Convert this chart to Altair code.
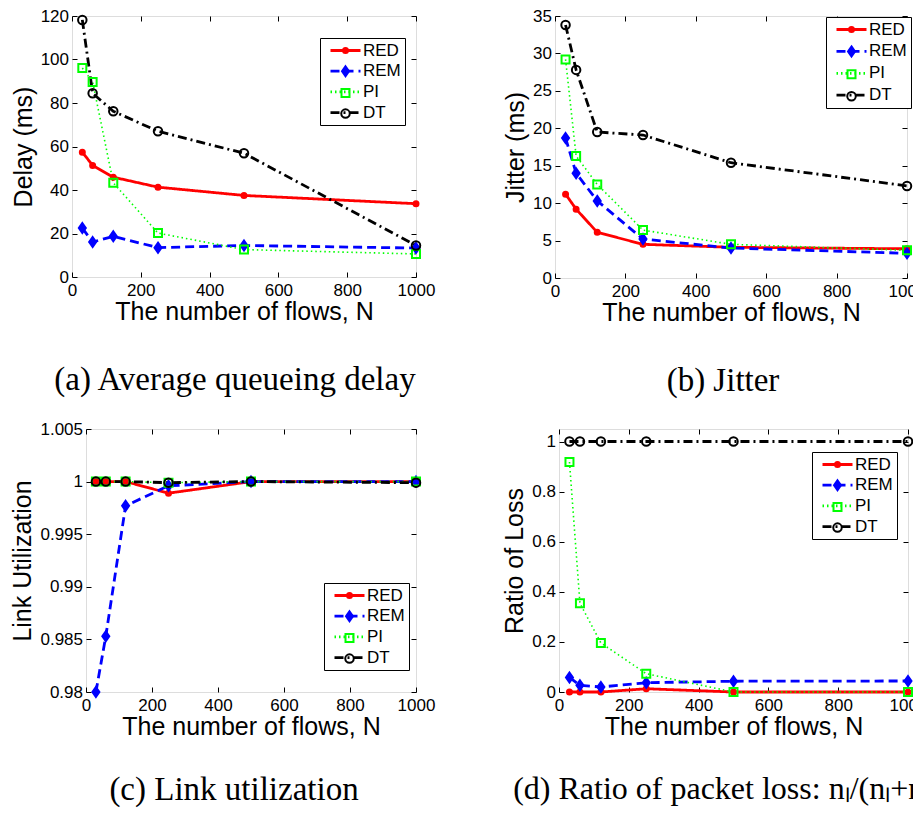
import altair as alt
import pandas as pd

# ---------------- data ----------------
N = [30, 60, 120, 250, 500, 1000]
SERIES = ["RED", "REM", "PI", "DT"]
MARKERS = ["mRED", "mREM", "mPI", "mDT"]
X_TICKS = [0, 200, 400, 600, 800, 1000]

delay_red = [57.4, 51.3, 45.9, 41.3, 37.5, 33.7]
delay_rem = [22.5, 16.1, 18.7, 13.5, 14.5, 13.3]
delay_pi = [96.1, 89.7, 43.3, 20.2, 12.6, 10.6]
delay_dt = [118.2, 84.5, 76.2, 67.0, 56.9, 14.5]

jitter_red = [11.2, 9.2, 6.1, 4.5, 4.1, 3.9]
jitter_rem = [18.7, 14.0, 10.3, 5.2, 4.0, 3.3]
jitter_pi = [29.2, 16.3, 12.5, 6.4, 4.5, 3.7]
jitter_dt = [33.8, 27.8, 19.5, 19.1, 15.4, 12.3]

util_red = [1.0, 1.0, 1.0, 0.9989, 1.0, 1.0]
util_rem = [0.98, 0.9853, 0.9977, 0.9996, 1.0, 1.0]
util_pi = [1.0, 1.0, 1.0, 0.9999, 1.0, 1.0]
util_dt = [1.0, 1.0, 1.0, 0.9999, 1.0, 0.9999]

loss_red = [0.0, 0.0, 0.0, 0.013, 0.0, 0.0]
loss_rem = [0.058, 0.027, 0.02, 0.037, 0.043, 0.044]
loss_pi = [0.918, 0.354, 0.196, 0.073, 0.0, 0.0]
loss_dt = [1.0, 1.0, 1.0, 1.0, 1.0, 1.0]

# ---------------- styles ----------------
COLORS = ["#ff0000", "#0000ff", "#00ff00", "#000000"]
FILLS = ["#ff0000", "#0000ff", "transparent", "transparent"]
DASHES = [[1, 0], [9, 5], [1.5, 3], [9, 4, 2, 4]]
SHAPES = [
    "M0,-0.5A0.5,0.5 0 1,1 0,0.5A0.5,0.5 0 1,1 0,-0.5Z",
    "M0,-1L0.7,0L0,1L-0.7,0Z",
    "M-0.8,-0.8H0.8V0.8H-0.8Z",
    "M0,-0.85A0.85,0.85 0 1,1 0,0.85A0.85,0.85 0 1,1 0,-0.85Z",
]
FONT = "Liberation Sans"
SERIF = "Liberation Serif"
IND = dict(color="independent", strokeDash="independent", stroke="independent",
           fill="independent", shape="independent")


def make_df(vals):
    rows = []
    for s, m, ys in zip(SERIES, MARKERS, vals):
        for n, y in zip(N, ys):
            rows.append({"N": n, "v": y, "series": s, "mk": m})
    return pd.DataFrame(rows)


def panel(vals, ydom, yticks, yfmt, ytitle, w, h, lx, ly, row_pad, caption, cap_dx,
          cap_size, cap_offset):
    df = make_df(vals)
    xs = alt.Scale(domain=[0, 1000], nice=False, zero=False)
    ys = alt.Scale(domain=ydom, nice=False, zero=False)
    common = dict(domain=False, grid=False, offset=-5, tickSize=5, tickColor="black",
                  tickWidth=1, labelColor="black", titleColor="black", labelFont=FONT,
                  titleFont=FONT, labelFontSize=17, titleFontSize=25,
                  titleFontWeight="normal", labelFlush=False)
    xa = alt.Axis(orient="bottom", title="The number of flows, N", values=X_TICKS,
                  format="d", labelPadding=5, titlePadding=1, **common)
    ya = alt.Axis(orient="left", title=ytitle, values=yticks, format=yfmt,
                  labelPadding=3.5, titlePadding=4, **common)
    xa2 = alt.Axis(orient="top", title=None, values=X_TICKS, labels=False, **common)
    ya2 = alt.Axis(orient="right", title=None, values=yticks, labels=False, **common)

    leg_common = dict(orient="none", legendX=lx, legendY=ly, title=None, symbolSize=100,
                      symbolOffset=13, labelOffset=9, padding=4, rowPadding=row_pad,
                      labelFontSize=17, labelFont=FONT)
    leg_lines = alt.Legend(symbolType="M-3,0H3", symbolStrokeWidth=2.8,
                           labelColor="black", strokeColor="black", fillColor="white",
                           **leg_common)
    leg_marks = alt.Legend(symbolStrokeWidth=2, labelOpacity=0, labelExpr="' '",
                           **leg_common)

    lines = alt.Chart(df).mark_line().encode(
        x=alt.X("N:Q", scale=xs, axis=xa),
        y=alt.Y("v:Q", scale=ys, axis=ya),
        color=alt.Color("series:N", scale=alt.Scale(domain=SERIES, range=COLORS),
                        legend=leg_lines),
        strokeDash=alt.StrokeDash("series:N", scale=alt.Scale(domain=SERIES, range=DASHES),
                                  legend=leg_lines),
        strokeWidth=alt.condition("datum.series === 'PI'", alt.value(1.6), alt.value(2.8)),
    )
    points = alt.Chart(df).mark_point(opacity=1, strokeWidth=2, size=100).encode(
        x=alt.X("N:Q", scale=xs, axis=xa2),
        y=alt.Y("v:Q", scale=ys, axis=ya2),
        stroke=alt.Stroke("mk:N", scale=alt.Scale(domain=MARKERS, range=COLORS),
                          legend=leg_marks),
        fill=alt.Fill("mk:N", scale=alt.Scale(domain=MARKERS, range=FILLS),
                      legend=leg_marks),
        shape=alt.Shape("mk:N", scale=alt.Scale(domain=MARKERS, range=SHAPES),
                        legend=leg_marks),
    )
    return alt.layer(lines, points).resolve_axis(
        x="independent", y="independent"
    ).properties(
        width=w, height=h,
        title=alt.TitleParams(caption, orient="bottom", font=SERIF, fontSize=cap_size,
                              fontWeight="normal", color="black", offset=cap_offset,
                              anchor="middle", frame="group", dx=cap_dx),
    )


def spacer(w):
    # empty, invisible cell so that each row starts at its own left bound
    return alt.Chart(pd.DataFrame({"s": [0]})).mark_point(opacity=0, size=0).properties(
        width=w, height=1, view=alt.ViewBackground(stroke="transparent")
    )


pa = panel([delay_red, delay_rem, delay_pi, delay_dt], [0, 120],
           [0, 20, 40, 60, 80, 100, 120], "d", "Delay (ms)", 344, 261, 248, 22, 2.7,
           "(a) Average queueing delay", -9, 33, 40)
pb = panel([jitter_red, jitter_rem, jitter_pi, jitter_dt], [0, 35],
           [0, 5, 10, 15, 20, 25, 30, 35], "d", "Jitter (ms)", 352, 262, 271, 1, 3.9,
           "(b) Jitter", -8, 33, 40)
pc = panel([util_red, util_rem, util_pi, util_dt], [0.98, 1.005],
           [0.98, 0.985, 0.99, 0.995, 1.0, 1.005], ".4~g", "Link Utilization", 330, 263,
           238, 154, 2.7, "(c) Link utilization", -17, 33, 35)
pd_ = panel([loss_red, loss_rem, loss_pi, loss_dt], [0, 1.05],
            [0, 0.2, 0.4, 0.6, 0.8, 1.0], ".4~g", "Ratio of Loss", 349, 263, 253, 23, 2.7,
            "(d) Ratio of packet loss: nₗ/(nₗ+nₘ)", 0, 32, 35)

top = alt.hconcat(spacer(1), pa, pb, spacing=67).resolve_scale(**IND).resolve_legend(**IND)
bottom = alt.hconcat(spacer(2), pc, pd_, spacing=66).resolve_scale(**IND).resolve_legend(**IND)

chart = alt.vconcat(top, bottom, spacing=20).resolve_scale(**IND).resolve_legend(
    **IND
).properties(
    padding={"left": -68, "top": -2, "right": -42, "bottom": 0}
).configure_view(
    stroke="black", strokeWidth=1.2
).configure(font=FONT, background="white")

chart.save("out.html", embed_options={"renderer": "svg", "actions": False})
